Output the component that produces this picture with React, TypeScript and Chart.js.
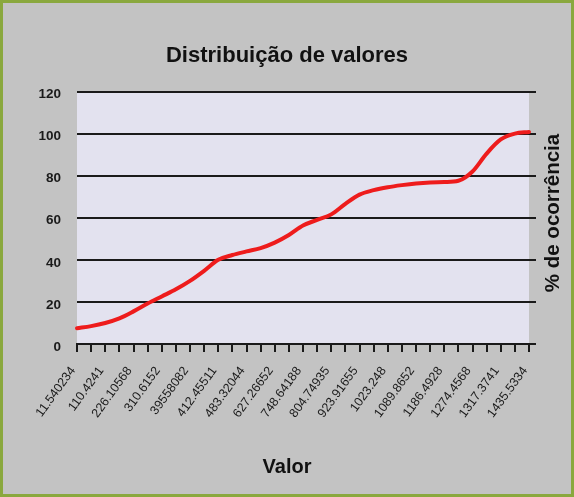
import React, { useEffect, useRef } from "react";
import { Chart, registerables } from "chart.js";

Chart.register(...registerables);

const chartTitle = "Distribuição de valores";
const xTitle = "Valor";
const yTitle = "% de ocorrência";

const valueLabels: string[] = [
  "11.540234", "110.4241", "226.10568", "310.6152", "39558082", "412.45511",
  "483.32044", "627.26652", "748.64188", "804.74935", "923.91655", "1023.248",
  "1089.8652", "1186.4928", "1274.4568", "1317.3741", "1435.5334",
];

const occurrence: number[] = [
  7.5, 8.5, 10.0, 12.2, 15.5, 19.2, 22.6, 26.0, 30.0, 34.8, 40.0, 42.3, 44.0,
  45.6, 48.2, 51.8, 56.3, 59.0, 61.6, 66.6, 71.0, 73.1, 74.5, 75.5, 76.3, 76.8,
  77.0, 77.6, 82.0, 90.5, 97.2, 100.0, 100.8,
];

const yTicks = { min: 0, max: 120, step: 20 };

const categories: string[] = valueLabels.flatMap((l, i) =>
  i < valueLabels.length - 1 ? [l, ""] : [l]
);

const W = 574;
const H = 497;

const decor = {
  id: "decor",
  beforeDraw(chart: any) {
    const { ctx, chartArea } = chart;
    ctx.save();
    ctx.fillStyle = "#c3c3c3";
    ctx.fillRect(0, 0, W, H);
    ctx.fillStyle = "#e3e2ef";
    ctx.fillRect(chartArea.left, chartArea.top, chartArea.right - chartArea.left, chartArea.bottom - chartArea.top);
    ctx.strokeStyle = "#8aa83e";
    ctx.lineWidth = 3;
    ctx.strokeRect(1.5, 1.5, W - 3, H - 3);
    ctx.restore();
  },
  afterDraw(chart: any) {
    const { ctx } = chart;
    ctx.save();
    ctx.fillStyle = "#111";
    ctx.textAlign = "center";
    ctx.textBaseline = "alphabetic";
    ctx.font = "bold 22px 'Liberation Sans', Arial, sans-serif";
    ctx.fillText(chartTitle, 287, 62);
    ctx.font = "bold 20px 'Liberation Sans', Arial, sans-serif";
    ctx.fillText(xTitle, 287, 473);
    ctx.translate(559, 213);
    ctx.rotate(-Math.PI / 2);
    ctx.font = "bold 20.5px 'Liberation Sans', Arial, sans-serif";
    ctx.fillText(yTitle, 0, 0);
    ctx.restore();
  },
};

export default function App() {
  const ref = useRef<HTMLCanvasElement | null>(null);
  useEffect(() => {
    if (!ref.current) return;
    const chart = new Chart(ref.current, {
      type: "line",
      data: {
        labels: categories,
        datasets: [
          {
            data: occurrence,
            borderColor: "#ee1c1c",
            borderWidth: 4,
            pointRadius: 0,
            tension: 0.4,
            cubicInterpolationMode: "monotone",
            borderCapStyle: "round",
            fill: false,
            clip: false as any,
          },
        ],
      },
      options: {
        responsive: false,
        animation: false,
        layout: { padding: { top: 91.5, left: 0, right: 0, bottom: 0 } },
        plugins: { legend: { display: false }, title: { display: false }, tooltip: { enabled: false } },
        scales: {
          x: {
            type: "category",
            offset: false,
            afterFit: (s: any) => { s.height = H - 344; },
            grid: { display: true, drawOnChartArea: false, drawTicks: true, tickLength: 8, color: "#1a1a1a", lineWidth: 2 },
            border: { display: true, color: "#1a1a1a", width: 2 },
            ticks: {
              autoSkip: false,
              maxRotation: 54,
              minRotation: 54,
              padding: 12,
              labelOffset: -4,
              color: "#1a1a1a",
              font: { family: "'Liberation Sans', Arial, sans-serif", size: 12.5 },
              callback: (_v: any, i: number) => categories[i],
            },
          },
          y: {
            position: "left",
            min: yTicks.min,
            max: yTicks.max,
            afterFit: (s: any) => { s.width = 77; },
            grid: { color: "#1a1a1a", lineWidth: 2, drawTicks: false },
            border: { display: false },
            ticks: {
              stepSize: yTicks.step,
              padding: 16,
              labelOffset: 3,
              color: "#1a1a1a",
              font: { family: "'Liberation Sans', Arial, sans-serif", size: 13.5, weight: "bold" },
            },
          },
          y2: {
            position: "right",
            min: yTicks.min,
            max: yTicks.max,
            afterFit: (s: any) => { s.width = W - 529; },
            grid: { color: "#1a1a1a", lineWidth: 2, drawOnChartArea: false, drawTicks: true, tickLength: 7 },
            border: { display: false },
            ticks: { stepSize: yTicks.step, display: false },
          },
        },
      },
      plugins: [decor],
    });
    return () => chart.destroy();
  }, []);
  return (
    <div style={{ position: "absolute", left: 0, top: 0, width: W, height: H }}>
      <canvas ref={ref} width={W} height={H} style={{ width: W, height: H, display: "block" }} />
    </div>
  );
}
